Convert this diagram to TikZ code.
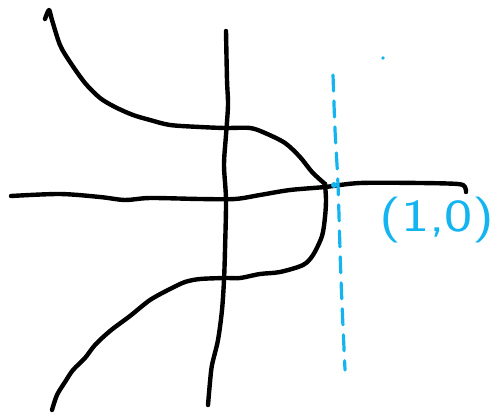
\documentclass[tikz,border=0pt]{standalone}
\usepackage{tikz}
\usetikzlibrary{calc}
\definecolor{sketchblue}{RGB}{20,180,240}

\begin{document}
\begin{tikzpicture}[x=0.5pt,y=-0.5pt,line cap=round,line join=round,
	pen/.style={line width=2.2pt,black},
	bluepen/.style={line width=1.6pt,sketchblue},
	lbl/.style={sketchblue,font=\sffamily\fontsize{23}{23}\selectfont,xscale=1.3}]
	\useasboundingbox (0,0) rectangle (501,416);
	
	% Achsen
	\draw[pen] plot[smooth,tension=0.5] coordinates {(11,196) (60,194) (100,197) (125,200) (150,198) (200,199) (235,199) (260,195) (290,190) (325,187) (360,183) (420,183) (458,184) (465,187) (466,192)};
	\draw[pen] plot[smooth,tension=0.5] coordinates {(226,31) (227,80) (228,105) (226,135) (224,165) (226,200) (225,250) (224,280) (222,310) (218,340) (212,365) (210,382) (208,405)};
	
	% Kurve
	\coordinate (P) at (325,184);
	\draw[pen] plot[smooth,tension=0.5] coordinates {(45,19) (49,10) (52,20) (60,45) (70,62) (85,83) (100,98) (115,107) (133,115) (150,120) (170,125) (200,127) (225,128) (250,128) (265,133) (285,143) (300,157) (312,172) (P)};
	\draw[pen] plot[smooth,tension=0.5] coordinates {(P) (326,200) (325,217) (322,236) (313,255) (303,265) (280,272) (260,274) (240,278) (225,278) (200,279) (185,282) (170,289) (150,300) (130,316) (110,331) (95,345) (85,358) (73,370) (65,382) (57,395) (52,410)};
	
	% Gerade x=1
	\draw[bluepen,dash pattern=on 8pt off 5pt] plot[smooth] coordinates {(333,75) (335,130) (338,185) (341,280) (345,370)};
	\fill[sketchblue] (334,185) circle (3);
	\fill[sketchblue] (383,58) circle (1.8);
	\node[lbl] (pkt) at (437,220) {(1,0)};
	
\end{tikzpicture}
\end{document}
